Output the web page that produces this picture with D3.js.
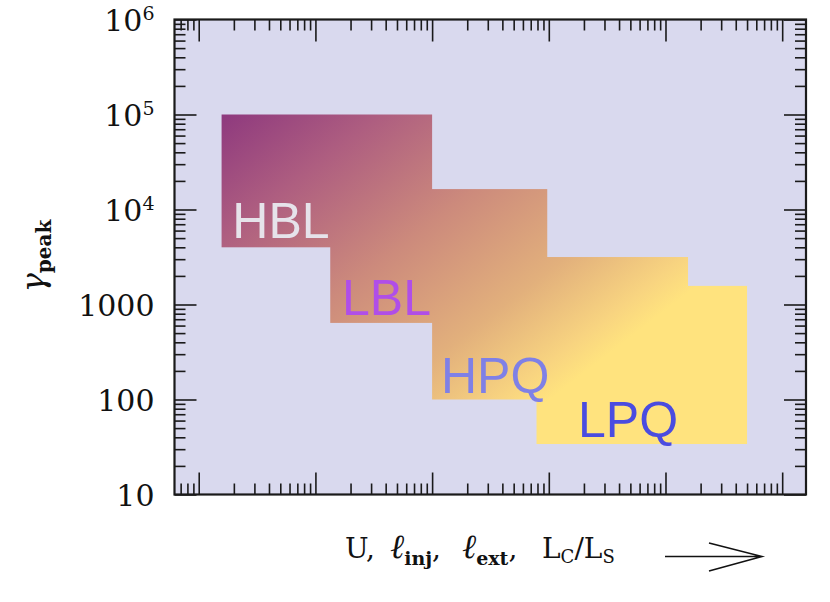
<!DOCTYPE html>
<html>
<head>
<meta charset="utf-8">
<script src="https://cdn.jsdelivr.net/npm/d3@7/dist/d3.min.js"></script>
<style>
  body { margin: 0; background: #fff; }
  svg { display: block; }
</style>
</head>
<body>
<div id="chart"></div>
<script>
// blazar classes and the ranges they cover (x: arbitrary log units, y: gamma_peak)
const classes = ["HBL", "LBL", "HPQ", "LPQ"];
const xLow  = [1.57, 13.4, 100, 785];
const xHigh = [100, 970, 15600, 50000];
const yLow  = [4000, 640, 100, 34];
const yHigh = [100000, 16400, 3160, 1570];
const labelX = [1.94, 16.9, 119, 1780];
const labelY = [5000, 780, 118, 40.6];
const labelColors = ["#e6e3ea", "#b04ee8", "#7f80e6", "#4a4ce0"];

const yTickValues = [10, 100, 1000, 1e4, 1e5, 1e6];
const yTickBase = ["10", "100", "1000", "10", "10", "10"];
const yTickExp  = ["", "", "", "4", "5", "6"];

const xDomain = [0.62, 160000];
const yDomain = [10, 1e6];

const width = 830, height = 602;
const plot = { left: 174.5, right: 806, top: 19.5, bottom: 494.5 };

const svg = d3.select("#chart").append("svg")
    .attr("width", width)
    .attr("height", height);

const x = d3.scaleLog().domain(xDomain).range([plot.left, plot.right]);
const y = d3.scaleLog().domain(yDomain).range([plot.bottom, plot.top]);

// plot background
svg.append("rect")
    .attr("x", plot.left)
    .attr("y", plot.top)
    .attr("width", plot.right - plot.left)
    .attr("height", plot.bottom - plot.top)
    .attr("fill", "#d9d9ee");

// gradient over the union of all boxes
const bx0 = x(d3.min(xLow)), bx1 = x(d3.max(xHigh));
const by0 = y(d3.max(yHigh)), by1 = y(d3.min(yLow));
const grad = svg.append("defs").append("linearGradient")
    .attr("id", "grad")
    .attr("gradientUnits", "userSpaceOnUse")
    .attr("x1", bx0).attr("y1", by0)
    .attr("x2", bx0 + 0.495 * (bx1 - bx0))
    .attr("y2", by0 + 1.024 * (by1 - by0));
[[0, "#8e397e"], [0.23, "#ae5e80"], [0.5, "#cc8a7c"],
 [0.76, "#e2b07c"], [0.93, "#f8d480"], [1, "#ffe37e"]]
    .forEach(([o, c]) => grad.append("stop").attr("offset", o).attr("stop-color", c));

const boxes = classes.map((c, i) => ({ name: c, x0: xLow[i], x1: xHigh[i], y0: yLow[i], y1: yHigh[i] }));

svg.selectAll(".box")
    .data(boxes).enter()
  .append("rect")
    .attr("class", "box")
    .attr("x", (d) => x(d.x0))
    .attr("y", (d) => y(d.y1))
    .attr("width", (d) => x(d.x1) - x(d.x0))
    .attr("height", (d) => y(d.y0) - y(d.y1))
    .attr("fill", "url(#grad)");

svg.selectAll(".cls")
    .data(classes).enter()
  .append("text")
    .attr("class", "cls")
    .attr("x", (d, i) => x(labelX[i]))
    .attr("y", (d, i) => y(labelY[i]))
    .attr("fill", (d, i) => labelColors[i])
    .style("font-family", "'Liberation Sans', Arial, sans-serif")
    .style("font-size", "50px")
    .text((d) => d);

// ticks: majors on decades, minors in between, all pointing inward
const isMajor = (v) => Math.abs(Math.log10(v) - Math.round(Math.log10(v))) < 1e-6;
const xTicks = x.ticks(), yTicks = y.ticks();

function tickAxis(axisFn, scale, values, size, transform) {
    const g = svg.append("g")
        .attr("transform", transform)
        .call(axisFn(scale).tickValues(values).tickSize(size).tickSizeOuter(0).tickFormat(""));
    g.select(".domain").remove();
    g.selectAll("line").attr("stroke", "#1a1a1a").attr("stroke-width", 1.6);
}

[[xTicks.filter(isMajor), 22], [xTicks.filter((v) => !isMajor(v)), 11]].forEach(([vals, len]) => {
    tickAxis(d3.axisBottom, x, vals, -len, `translate(0,${plot.bottom})`);
    tickAxis(d3.axisTop, x, vals, -len, `translate(0,${plot.top})`);
});
[[yTicks.filter(isMajor), 22], [yTicks.filter((v) => !isMajor(v)), 11]].forEach(([vals, len]) => {
    tickAxis(d3.axisLeft, y, vals, -len, `translate(${plot.left},0)`);
    tickAxis(d3.axisRight, y, vals, -len, `translate(${plot.right},0)`);
});

// frame
svg.append("rect")
    .attr("x", plot.left)
    .attr("y", plot.top)
    .attr("width", plot.right - plot.left)
    .attr("height", plot.bottom - plot.top)
    .attr("fill", "none")
    .attr("stroke", "#1a1a1a")
    .attr("stroke-width", 2.2);

// y tick labels
const serif = "'DejaVu Serif', 'Liberation Serif', serif";
const yLabels = svg.selectAll(".ylab")
    .data(yTickValues).enter()
  .append("text")
    .attr("class", "ylab")
    .attr("x", plot.left - 20)
    .attr("y", (d) => y(d) + 11)
    .attr("text-anchor", "end")
    .attr("fill", "#111")
    .style("font-family", serif)
    .style("font-size", "30px");
yLabels.append("tspan").text((d, i) => yTickBase[i]);
yLabels.append("tspan")
    .attr("dy", -11)
    .style("font-size", "19px")
    .text((d, i) => yTickExp[i]);

// y axis title
const yTitle = svg.append("text")
    .attr("transform", "translate(44,256) rotate(-90)")
    .attr("text-anchor", "middle")
    .attr("fill", "#111")
    .style("font-family", serif);
yTitle.append("tspan").style("font-size", "32px").style("font-style", "italic").text("γ");
yTitle.append("tspan").attr("dy", 7).style("font-size", "20px").style("font-weight", "bold").text("peak");

// x axis title
const xTitle = svg.append("text")
    .attr("y", 558)
    .attr("fill", "#111")
    .style("font-family", serif)
    .style("font-size", "28px");
const ell = (sel) => sel.style("font-size", "34px").style("font-style", "italic").text("ℓ");
xTitle.append("tspan").attr("x", 345).text("U,");
xTitle.append("tspan").attr("x", 390).call(ell);
xTitle.append("tspan").attr("dy", 7).style("font-size", "19px").style("font-weight", "bold").text("inj");
xTitle.append("tspan").attr("dy", -7).text(",");
xTitle.append("tspan").attr("x", 462).call(ell);
xTitle.append("tspan").attr("dy", 7).style("font-size", "19px").style("font-weight", "bold").text("ext");
xTitle.append("tspan").attr("dy", -7).text(",");
xTitle.append("tspan").attr("x", 542).text("L");
xTitle.append("tspan").attr("dy", 5).style("font-size", "18px").text("C");
xTitle.append("tspan").attr("dy", -5).text("/L");
xTitle.append("tspan").attr("dy", 5).style("font-size", "18px").text("S");

// arrow
svg.append("path")
    .attr("d", "M665,556.5H761M709,543L762,556.5L709,571")
    .attr("fill", "none")
    .attr("stroke", "#111")
    .attr("stroke-width", 1.6);
</script>
</body>
</html>
